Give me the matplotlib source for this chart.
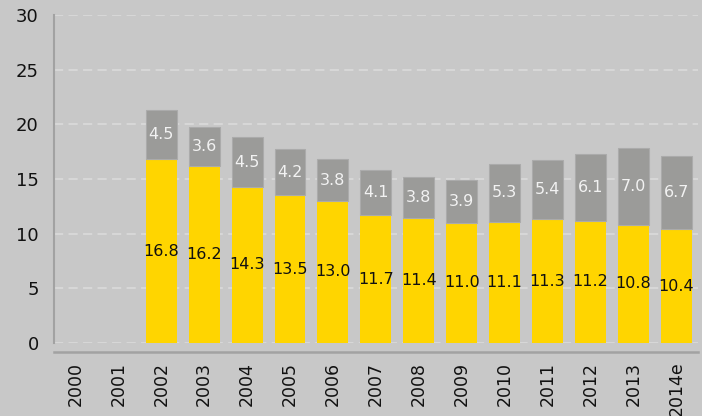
import numpy as np
import matplotlib.pyplot as plt

years = ['2000', '2001', '2002', '2003', '2004', '2005', '2006', '2007',
         '2008', '2009', '2010', '2011', '2012', '2013', '2014e']
lower = [np.nan, np.nan, 16.8, 16.2, 14.3, 13.5, 13.0, 11.7, 11.4, 11.0,
         11.1, 11.3, 11.2, 10.8, 10.4]
upper = [np.nan, np.nan, 4.5, 3.6, 4.5, 4.2, 3.8, 4.1, 3.8, 3.9,
         5.3, 5.4, 6.1, 7.0, 6.7]

bg = '#C8C8C8'
yellow = '#FFD500'
grey = '#9B9B99'

fig = plt.figure(figsize=(7.02, 4.16), dpi=100, facecolor=bg)
ax = fig.add_axes([0.0769, 0.1755, 0.917, 0.7885], facecolor=bg)

x = np.arange(len(years))
lo = np.array(lower)
up = np.array(upper)
ax.bar(x, lo, width=0.72, color=yellow, zorder=3)
ax.bar(x, up, bottom=lo, width=0.72, color=grey, edgecolor='#ABABAB',
       linewidth=0.8, zorder=3)

for i in range(len(years)):
    if np.isnan(lo[i]):
        continue
    ax.text(x[i], lo[i] / 2, f'{lo[i]:.1f}', ha='center', va='center',
            fontsize=11.5, color='#111111', zorder=4)
    ax.text(x[i], lo[i] + up[i] / 2, f'{up[i]:.1f}', ha='center', va='center',
            fontsize=11.5, color='#F2F2F2', zorder=4)

ax.set_xlim(-0.5, len(years) - 0.5)
ax.set_ylim(0, 30)
ax.set_yticks(range(0, 31, 5))
ax.yaxis.grid(True, color='#DCDCDC', linestyle=(0, (6, 3.5)), linewidth=1.1, zorder=0)
ax.set_axisbelow(True)

ax.set_xticks(x)
ax.set_xticklabels(years)
ax.tick_params(axis='x', length=0, pad=7, labelsize=12.5, labelcolor='#111111',
               labelrotation=90)
ax.tick_params(axis='y', length=0, pad=11, labelsize=13, labelcolor='#111111')

for s in ['top', 'right']:
    ax.spines[s].set_visible(False)
ax.spines['left'].set_color('#A2A2A2')
ax.spines['left'].set_linewidth(1.5)
ax.spines['left'].set_bounds(0, 30)
ax.spines['bottom'].set_color('#A2A2A2')
ax.spines['bottom'].set_linewidth(1.8)
ax.spines['bottom'].set_position(('outward', 6.5))

fig.savefig('out.png', dpi=100, facecolor=bg)
